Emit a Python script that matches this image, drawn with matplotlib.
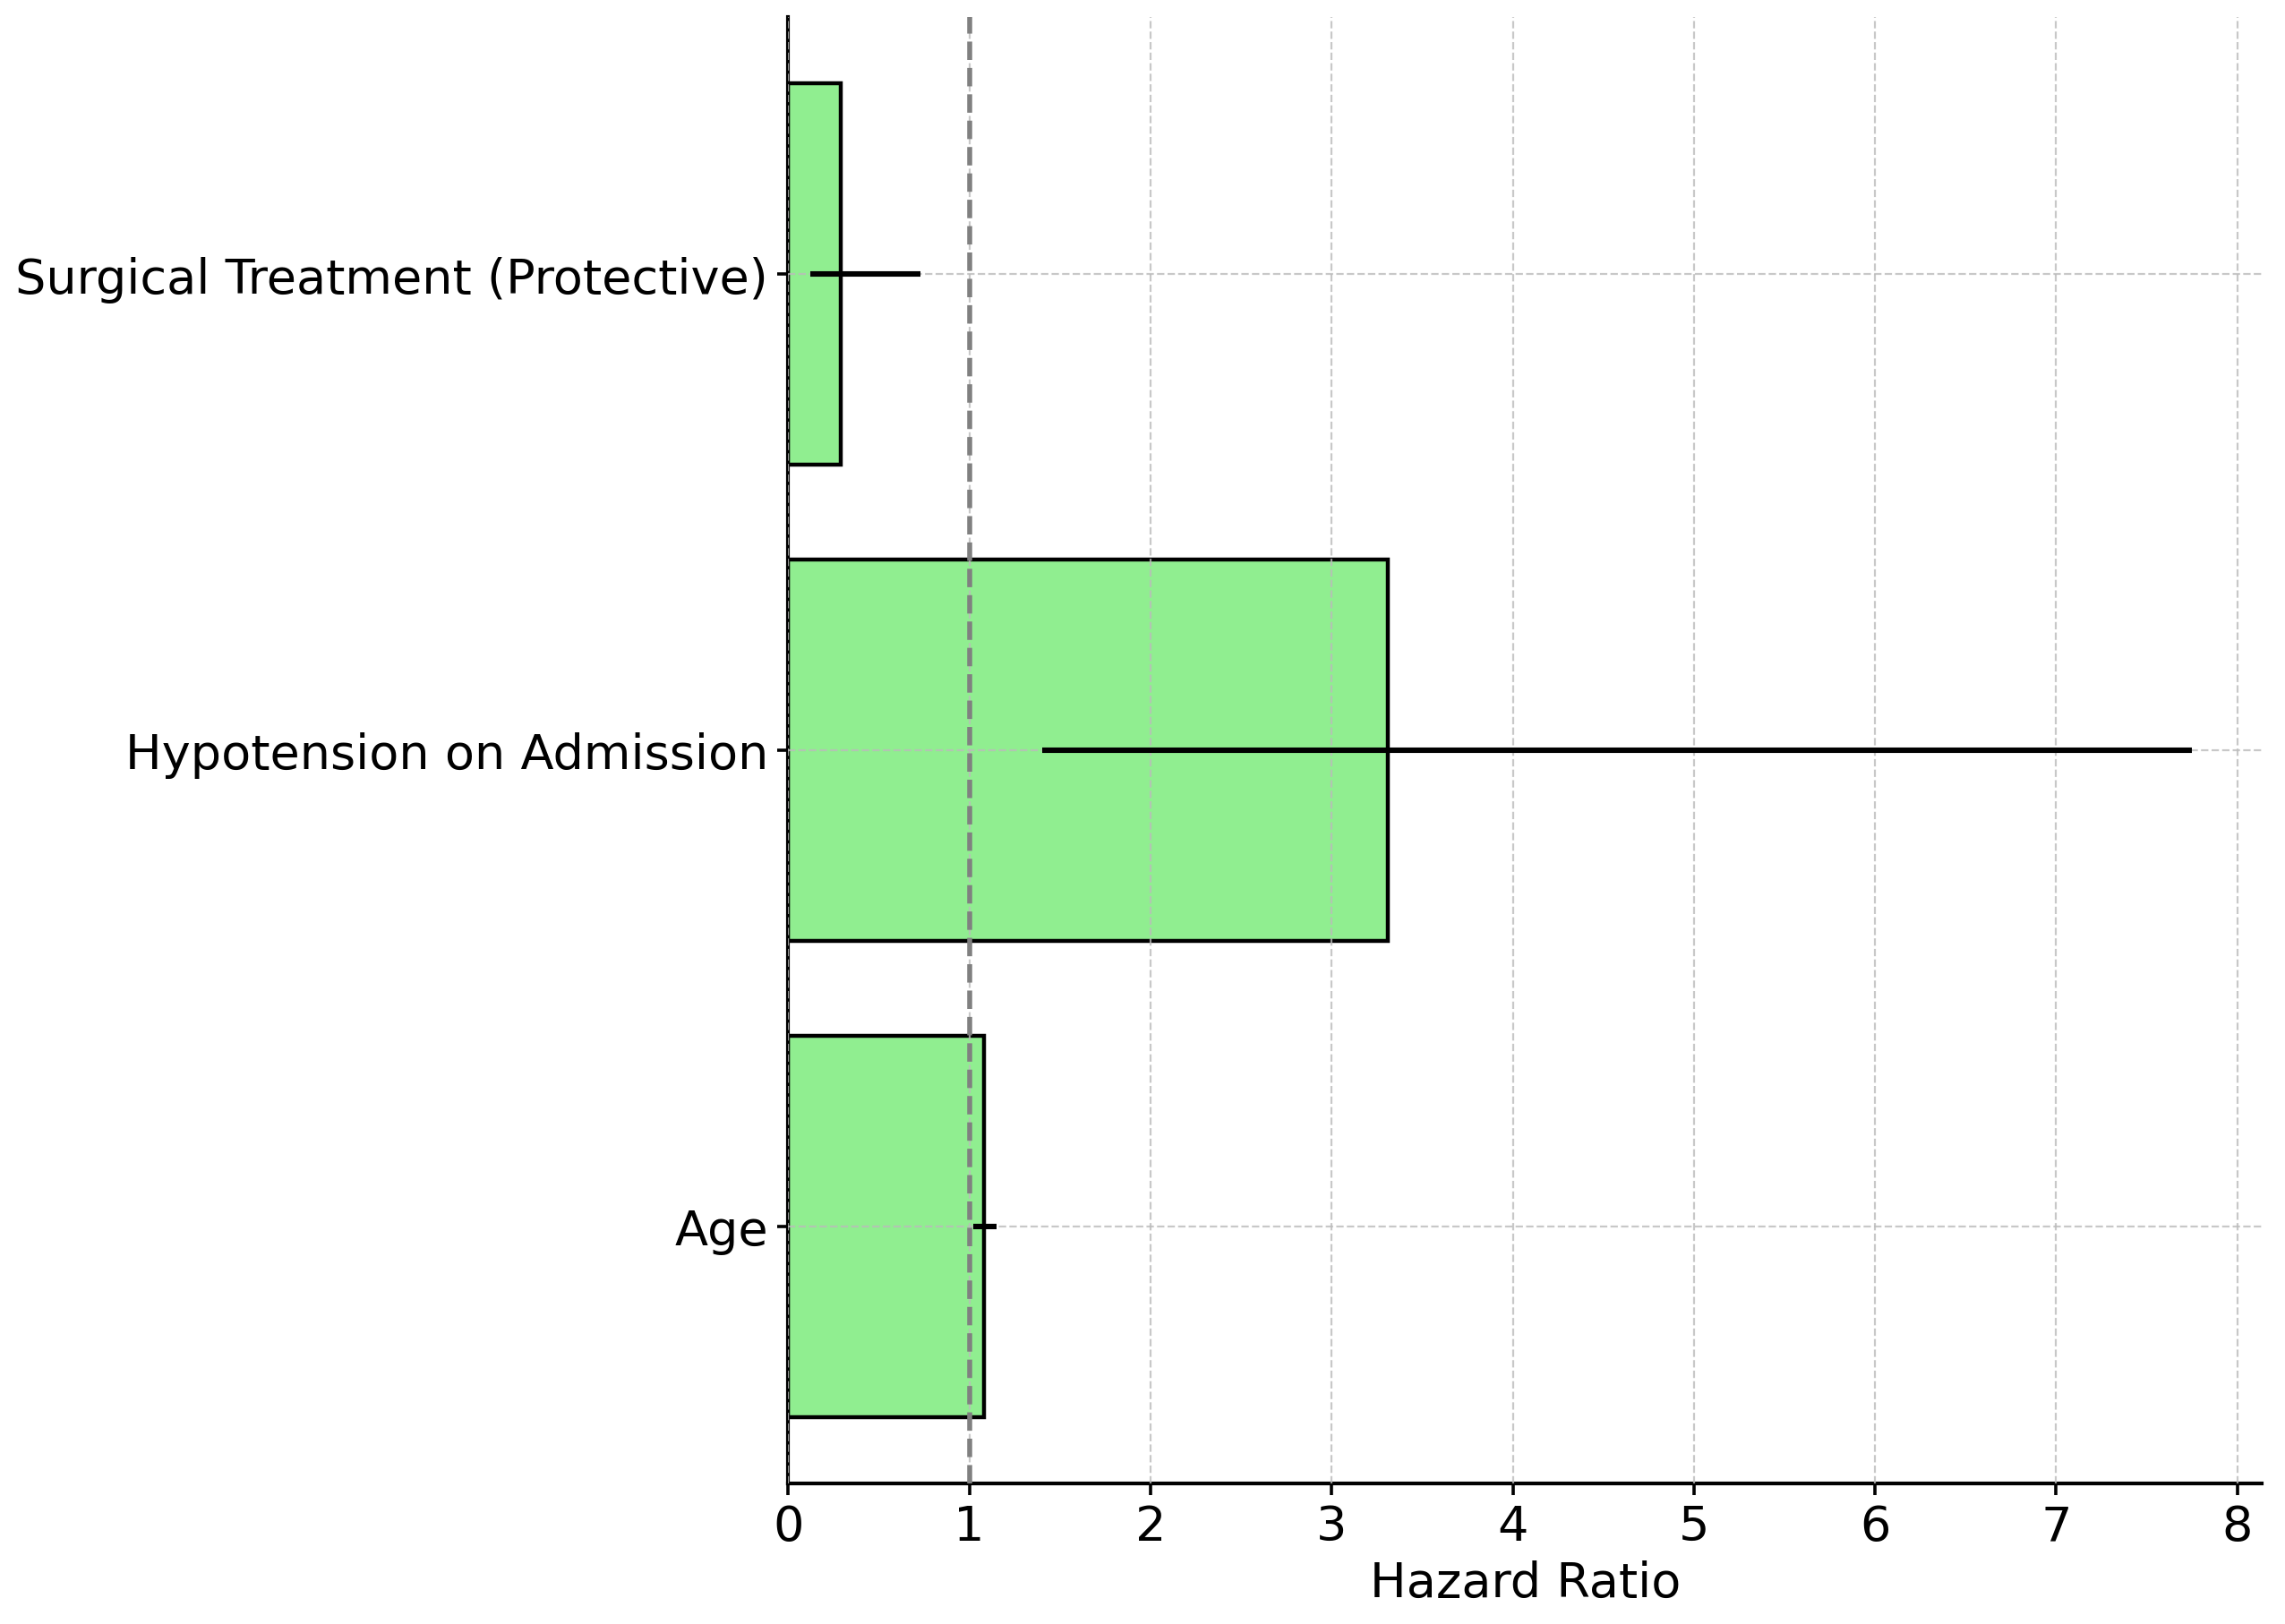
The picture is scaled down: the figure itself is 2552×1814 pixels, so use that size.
import numpy as np
import matplotlib
matplotlib.use("Agg")
import matplotlib.pyplot as plt

# Hazard ratios with 95% CI
factors   = ["Age", "Hypotension on Admission", "Surgical Treatment (Protective)"]
hr        = [1.08, 3.31, 0.29]
ci_low    = [1.02, 1.40, 0.12]
ci_high   = [1.15, 7.75, 0.73]
xticks    = [0, 1, 2, 3, 4, 5, 6, 7, 8]

DPI = 200
FS = 19.5
fig = plt.figure(figsize=(2552 / DPI, 1815 / DPI), dpi=DPI)
ax = fig.add_axes([0.345, 0.0865, 0.645, 0.9025])

y = np.arange(len(factors))
hr_arr = np.array(hr)
xerr = [hr_arr - np.array(ci_low), np.array(ci_high) - hr_arr]

ax.barh(y, hr, height=0.8, color="#90EE90", edgecolor="black", linewidth=1.6)
ax.errorbar(hr, y, xerr=xerr, fmt="none", ecolor="black", elinewidth=2.2, capsize=0, zorder=3)
ax.axvline(1, color="grey", linestyle="--", linewidth=2.0, zorder=4)

ax.set_axisbelow(False)
ax.grid(True, linestyle="--", color="#bbbbbb", linewidth=0.8, alpha=0.8)

ax.set_yticks(y)
ax.set_yticklabels(factors)
ax.set_xticks(xticks)
ax.set_xlabel("Hazard Ratio", fontsize=FS)
ax.tick_params(axis="both", labelsize=FS, width=1.3, length=4.5)

for side in ("top", "right"):
    ax.spines[side].set_visible(False)
for side in ("left", "bottom"):
    ax.spines[side].set_linewidth(1.5)

fig.savefig("out.png", dpi=DPI, facecolor="white")
